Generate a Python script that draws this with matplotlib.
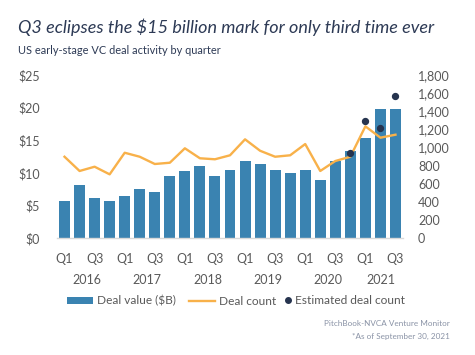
import matplotlib
matplotlib.use("Agg")
import matplotlib.pyplot as plt
from matplotlib.lines import Line2D
from matplotlib.patches import Patch
from matplotlib.ticker import FuncFormatter

plt.rcParams['font.family'] = ['Lato', 'DejaVu Sans']

quarters = ["Q1", "Q2", "Q3", "Q4"] * 5 + ["Q1", "Q2", "Q3"]
years = ["2016", "2017", "2018", "2019", "2020", "2021"]
deal_value = [5.7, 8.2, 6.2, 5.7, 6.5, 7.5, 7.1, 9.5, 10.3, 11.1, 9.5, 10.5,
              11.8, 11.4, 10.5, 10.0, 10.5, 8.9, 11.8, 13.4, 15.3, 19.8, 19.8]
deal_count = [899, 742, 789, 705, 943, 899, 819, 833, 992, 882, 871, 915,
              1091, 965, 899, 915, 1039, 742, 852, 899, 1234, 1109, 1142]
est_index = [19, 20, 21, 22]
est_count = [937, 1293, 1212, 1565]

BAR = "#3A83B1"
LINE = "#F8B14A"
DOT = "#26344F"
TXT = "#595959"
NAVY = "#2D3A55"
FS = 9.0

fig = plt.figure(figsize=(4.75, 3.55), dpi=100)
L, R, T, B = 57, 403, 75, 238.3
ax = fig.add_axes([L / 475, (355 - B) / 355, (R - L) / 475, (B - T) / 355])
x = list(range(len(deal_value)))
ax.bar(x, deal_value, width=0.73, color=BAR, zorder=2)
ax.set_xlim(-0.5, len(x) - 0.5)
ax.set_ylim(0, 25)
ax.set_yticks([0, 5, 10, 15, 20, 25])
ax.yaxis.set_major_formatter(FuncFormatter(lambda v, p: f"${v:.0f}"))
tick_pos = [i for i in x if quarters[i] in ("Q1", "Q3")]
ax.set_xticks(tick_pos)
ax.set_xticklabels([quarters[i] for i in tick_pos])
for s in ["top", "left", "right"]:
    ax.spines[s].set_visible(False)
ax.spines["bottom"].set_color("#D9D9D9")
ax.spines["bottom"].set_linewidth(1.0)
ax.tick_params(axis="both", length=0, labelsize=FS, colors=TXT)
ax.tick_params(axis="y", pad=12.2)
ax.tick_params(axis="x", pad=10.5)

ax2 = ax.twinx()
ax2.plot(x, deal_count, color=LINE, lw=1.7, zorder=3)
ax2.scatter([x[i] for i in est_index], est_count, s=18, color=DOT, zorder=4)
ax2.set_ylim(0, 1800)
ax2.set_yticks(range(0, 1801, 200))
ax2.yaxis.set_major_formatter(FuncFormatter(lambda v, p: f"{v:,.0f}"))
for s in ["top", "left", "right", "bottom"]:
    ax2.spines[s].set_visible(False)
ax2.tick_params(axis="y", length=0, labelsize=FS, colors=TXT, pad=10.8)

# year labels
starts = [0, 4, 8, 12, 16, 20]
for yr, st in zip(years, starts):
    end = min(st + 3, len(x) - 1)
    ax.text((st + end) / 2, -0.255, yr, transform=ax.get_xaxis_transform(),
            ha="center", va="center", fontsize=FS, color=TXT)

fig.text(18 / 475, 1 - 27 / 355, "Q3 eclipses the $15 billion mark for only third time ever",
         fontsize=12.95, style="italic", color=NAVY, va="center", ha="left")
fig.text(18 / 475, 1 - 50 / 355, "US early-stage VC deal activity by quarter",
         fontsize=7.9, color=NAVY, va="center", ha="left")

ly = 1 - 301 / 355
leg1 = fig.legend([Patch(facecolor=BAR, edgecolor="none"),
                   Line2D([0], [0], color=LINE, lw=1.7)],
                  ["Deal value ($B)", "Deal count"],
                  loc="center left", bbox_to_anchor=(67 / 475, ly),
                  ncol=2, frameon=False, fontsize=8.6, labelcolor=TXT,
                  handlelength=2.2, handleheight=0.45, handletextpad=0.3,
                  columnspacing=1.1, borderpad=0, borderaxespad=0)
leg2 = fig.legend([Line2D([0], [0], marker="o", color=DOT, lw=0, markersize=4)],
                  ["Estimated deal count"],
                  loc="center left", bbox_to_anchor=(285 / 475, ly),
                  frameon=False, fontsize=8.6, labelcolor=TXT,
                  handlelength=0.5, handletextpad=0.3, borderpad=0, borderaxespad=0)

fig.text(450 / 475, 1 - 324 / 355, "PitchBook-NVCA Venture Monitor",
         fontsize=5.9, color="#8A93A6", ha="right", va="center")
fig.text(450 / 475, 1 - 336 / 355, "*As of September 30, 2021",
         fontsize=5.9, color="#8A93A6", ha="right", va="center")

fig.savefig("out.png", dpi=100)
